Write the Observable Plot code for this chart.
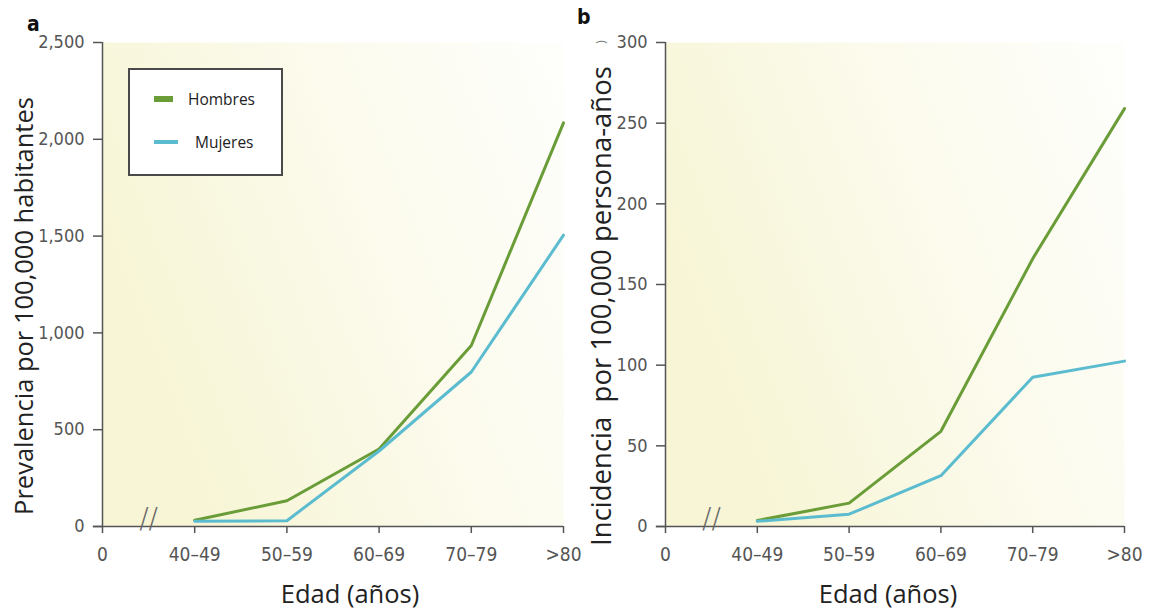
<!DOCTYPE html>
<html>
<head>
<meta charset="utf-8">
<script src="https://cdn.jsdelivr.net/npm/d3@7"></script>
<script src="https://cdn.jsdelivr.net/npm/@observablehq/plot@0.6"></script>
<style>
  html, body { margin: 0; padding: 0; background: #ffffff; }
  #wrap { position: relative; width: 1149px; height: 612px; overflow: hidden; background: #fff; }
  .panel { position: absolute; top: 0; }
  .legend { position: absolute; left: 128px; top: 68px; width: 151px; height: 104px;
            border: 2px solid #4a4a4a; background: #ffffff; font-family: "Open Sans", sans-serif;
            font-size: 15.5px; color: #222; }
  .legend .sw { display: inline-block; }
  .plabel { position: absolute; font-family: "Liberation Sans Narrow", "DejaVu Sans Condensed", sans-serif;
            font-weight: bold; font-size: 21px; color: #111; }
</style>
</head>
<body>
<div id="wrap"></div>
<script>
// ---- data ----
const ageLabels = ["0", "40–49", "50–59", "60–69", "70–79", ">80"];
const agePositions = [1, 2, 3, 4, 5];
const seriesNames = ["Hombres", "Mujeres"];
const seriesColors = ["#6a9c38", "#5cbccf"];
const prevHombres = [32, 133, 400, 935, 2085];
const prevMujeres = [27, 30, 390, 798, 1505];
const incHombres = [3.7, 14.5, 59, 166, 259];
const incMujeres = [3.2, 7.6, 31.5, 92.5, 102.5];
const prevTicks = [0, 500, 1000, 1500, 2000, 2500];
const incTicks = [0, 50, 100, 150, 200, 250, 300];
const xTicks = [0, 1, 2, 3, 4, 5];
const breakPos = [0.5];

function rows(h, m) {
  const out = [];
  agePositions.forEach((p, i) => out.push({x: p, y: h[i], s: seriesNames[0]}));
  agePositions.forEach((p, i) => out.push({x: p, y: m[i], s: seriesNames[1]}));
  return out;
}

const tickFont = '"Liberation Sans Narrow", "DejaVu Sans Condensed", sans-serif';
const titleFont = '"Open Sans", sans-serif';

function panel({id, left, width, mL, mR, yDomain, yTicks, yFmt, data, yTitle, yTitleSize, yTitleX, yTitleY, xTitleDx}) {
  const chart = Plot.plot({
    width, height: 612,
    marginLeft: mL, marginRight: mR, marginTop: 42, marginBottom: 86,
    style: {background: "transparent", overflow: "visible"},
    x: {domain: [0, 5], label: null},
    y: {domain: yDomain, label: null},
    color: {domain: seriesNames, range: seriesColors},
    marks: [
      Plot.frame({fill: `url(#bg${id})`, stroke: "none"}),
      Plot.axisX({ticks: xTicks, tickFormat: i => ageLabels[i], tickSize: 7, tickPadding: 14,
                  fontSize: 19, fontFamily: tickFont, fill: "#555", stroke: "#555", strokeWidth: 1.5, label: null}),
      Plot.axisY({ticks: yTicks, tickFormat: yFmt, tickSize: 9, tickPadding: 9,
                  fontSize: 18, fontFamily: tickFont, fill: "#555", stroke: "#555", strokeWidth: 1.5, label: null}),
      Plot.ruleX([0], {stroke: "#555", strokeWidth: 1.5}),
      Plot.ruleY([0], {stroke: "#555", strokeWidth: 1.5, x1: -0.1, x2: 5}),
      Plot.text(breakPos, {x: d => d, y: yDomain[0], text: () => "//", fontSize: 28, fill: "#666",
                           fontFamily: '"DejaVu Sans", sans-serif', fontWeight: 300, lineAnchor: "bottom", dy: 1}),
      Plot.line(data, {x: "x", y: "y", stroke: "s", strokeWidth: 3}),
      Plot.text(["Edad (años)"], {frameAnchor: "bottom", text: d => d, dy: 76, dx: xTitleDx, lineAnchor: "bottom",
                                  fontSize: 25.5, fontFamily: titleFont, fill: "#222"}),
    ]
  });
  const svg = d3.select(chart);
  const defs = svg.insert("defs", ":first-child");
  const g = defs.append("linearGradient").attr("id", `bg${id}`).attr("x1", "0").attr("x2", "1").attr("y1", "0.4").attr("y2", "0");
  g.append("stop").attr("offset", "0%").attr("stop-color", "#f7f5d5");
  g.append("stop").attr("offset", "45%").attr("stop-color", "#fbfaea");
  g.append("stop").attr("offset", "100%").attr("stop-color", "#fefefc");
  // y axis title (rotated)
  svg.append("text")
    .attr("transform", `translate(${yTitleX},${yTitleY}) rotate(-90)`)
    .attr("text-anchor", "middle").attr("dominant-baseline", "middle")
    .attr("font-family", titleFont).attr("font-size", yTitleSize).attr("fill", "#222")
    .attr("xml:space", "preserve")
    .style("white-space", "pre")
    .text(yTitle);
  const div = document.createElement("div");
  div.className = "panel";
  div.style.left = left + "px";
  div.appendChild(chart);
  return div;
}

const wrap = document.getElementById("wrap");
wrap.appendChild(panel({id: "A", left: 0, width: 575, mL: 102, mR: 12, yDomain: [0, 2500], yTicks: prevTicks,
  yFmt: d3.format(","), data: rows(prevHombres, prevMujeres),
  yTitle: "Prevalencia por 100,000 habitantes", yTitleSize: 25.5, yTitleX: 26, yTitleY: 306, xTitleDx: 17}));
wrap.appendChild(panel({id: "B", left: 574, width: 575, mL: 91, mR: 25, yDomain: [0, 300], yTicks: incTicks,
  yFmt: d => d, data: rows(incHombres, incMujeres),
  yTitle: "Incidencia  por 100,000 persona-años", yTitleSize: 27.5, yTitleX: 30, yTitleY: 306, xTitleDx: -7}));

// stray glyph near top of panel b axis title (as in the source figure)
const stray = document.createElement("div");
stray.style.cssText = "position:absolute;left:598px;top:33px;font-family:'Open Sans',sans-serif;font-size:13px;color:#777;transform:rotate(-90deg);";
stray.textContent = ")";
wrap.appendChild(stray);

// legend
const lg = document.createElement("div");
lg.className = "legend";
const legendItems = [
  {name: seriesNames[0], color: seriesColors[0], top: 25, swW: 19, swH: 6, textLeft: 58},
  {name: seriesNames[1], color: seriesColors[1], top: 68, swW: 24, swH: 4, textLeft: 65}
];
legendItems.forEach(it => {
  const sw = document.createElement("span");
  sw.className = "sw";
  sw.style.cssText = `position:absolute;left:24px;top:${it.top + 4 - it.swH / 2}px;width:${it.swW}px;height:${it.swH}px;background:${it.color};`;
  lg.appendChild(sw);
  const t = document.createElement("span");
  t.style.cssText = `position:absolute;left:${it.textLeft}px;top:${it.top - 7}px;line-height:22px;`;
  t.textContent = it.name;
  lg.appendChild(t);
});
wrap.appendChild(lg);

// panel letters
[["a", 27, 12], ["b", 577, 5]].forEach(([t, x, y]) => {
  const d = document.createElement("div");
  d.className = "plabel";
  d.style.left = x + "px"; d.style.top = y + "px";
  d.textContent = t;
  wrap.appendChild(d);
});
</script>
</body>
</html>
